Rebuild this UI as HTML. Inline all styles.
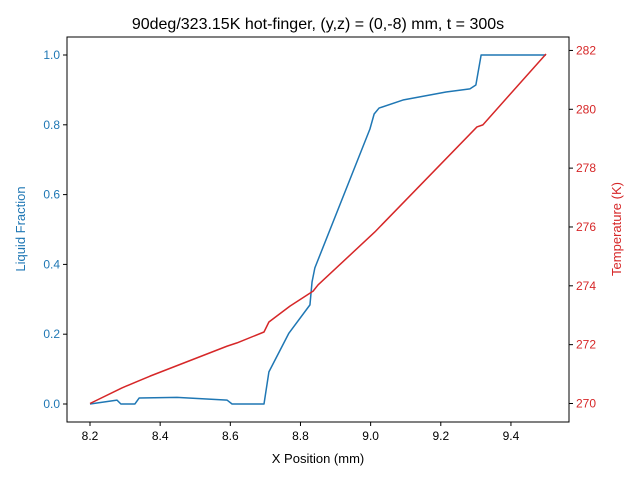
<!DOCTYPE html>
<html><head><meta charset="utf-8"><style>
body{margin:0;background:#fff}
svg{font-family:"Liberation Sans","DejaVu Sans",sans-serif}
</style></head><body>
<svg id="chart" width="640" height="480" xmlns="http://www.w3.org/2000/svg">
<rect width="640" height="480" fill="#fff"/>
<text x="318" y="29" text-anchor="middle" font-size="16">90deg/323.15K hot-finger, (y,z) = (0,-8) mm, t = 300s</text>
<g id="grid"></g>
<rect x="67" y="37" width="502" height="385" fill="none" stroke="#000" stroke-width="1"/>
<text x="318" y="463" text-anchor="middle" font-size="13">X Position (mm)</text>
<text transform="translate(25,229) rotate(-90)" text-anchor="middle" font-size="13" fill="#1f77b4">Liquid Fraction</text>
<text transform="translate(621,229) rotate(-90)" text-anchor="middle" font-size="13" fill="#d62728">Temperature (K)</text>
</svg>
<script>
const liquidX=[8.2,8.277,8.288,8.328,8.340,8.448,8.591,8.605,8.696,8.710,8.767,8.827,8.833,8.841,8.998,9.010,9.024,9.092,9.215,9.283,9.300,9.315,9.5];
const liquidY=[0,0.011,0,0,0.017,0.019,0.011,0,0,0.092,0.203,0.284,0.35,0.39,0.788,0.831,0.848,0.871,0.894,0.903,0.914,1.0,1.0];
const tempX=[8.2,8.291,8.371,8.591,8.619,8.696,8.710,8.770,8.836,8.850,9.012,9.303,9.320,9.5];
const tempY=[270,270.53,270.93,271.95,272.06,272.43,272.77,273.31,273.82,274.03,275.83,279.40,279.47,281.88];
const xTicks=[8.2,8.4,8.6,8.8,9.0,9.2,9.4];
const xTickLabels=["8.2","8.4","8.6","8.8","9.0","9.2","9.4"];
const leftTicks=[0,0.2,0.4,0.6,0.8,1.0];
const leftTickLabels=["0.0","0.2","0.4","0.6","0.8","1.0"];
const rightTicks=[270,272,274,276,278,280,282];
const rightTickLabels=["270","272","274","276","278","280","282"];

const L=67,R=569,T=37,B=422;
const xMin=8.1344,xMax=9.5655,lMin=-0.0516,lMax=1.0516,rMin=269.371,rMax=282.457;
const sx=v=>L+(v-xMin)/(xMax-xMin)*(R-L);
const sl=v=>B-(v-lMin)/(lMax-lMin)*(B-T);
const sr=v=>B-(v-rMin)/(rMax-rMin)*(B-T);
const svg=document.getElementById('chart');
const NS="http://www.w3.org/2000/svg";
function mk(tag,attrs){const e=document.createElementNS(NS,tag);for(const k in attrs)e.setAttribute(k,attrs[k]);svg.appendChild(e);return e;}

xTicks.forEach((v,i)=>{
  const x=sx(v);
  const t=mk('line',{x1:x,x2:x,y1:B,y2:B+4,stroke:'#000'});
  
  
  const l=mk('text',{x:x,y:B+18,'text-anchor':'middle','font-size':12});
  l.textContent=xTickLabels[i];
  
  
});
leftTicks.forEach((v,i)=>{
  const y=sl(v);
  const t=mk('line',{x1:L-4,x2:L,y1:y,y2:y,stroke:'#000'});
  
  
  const l=mk('text',{x:L-7,y:y+4,'text-anchor':'end','font-size':12,fill:'#1f77b4'});
  l.textContent=leftTickLabels[i];
  
  
});
rightTicks.forEach((v,i)=>{
  const y=sr(v);
  const t=mk('line',{x1:R,x2:R+4,y1:y,y2:y,stroke:'#000'});
  
  
  const l=mk('text',{x:R+7,y:y+4,'text-anchor':'start','font-size':12,fill:'#d62728'});
  l.textContent=rightTickLabels[i];
  
  
});
const lp=mk('polyline',{points:liquidX.map((x,i)=>sx(x)+','+sl(liquidY[i])).join(' '),fill:'none',stroke:'#1f77b4','stroke-width':1.5,'stroke-linejoin':'round'});


const tp=mk('polyline',{points:tempX.map((x,i)=>sx(x)+','+sr(tempY[i])).join(' '),fill:'none',stroke:'#d62728','stroke-width':1.5,'stroke-linejoin':'round'});


</script>
</body></html>
